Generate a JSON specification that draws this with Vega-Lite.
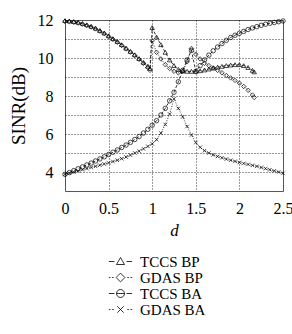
{
"$schema": "https://vega.github.io/schema/vega-lite/v6.json",
"width": 218, "height": 171,
"padding": {"left": 9, "top": 12, "right": 0, "bottom": 5},
"config": {"view": {"stroke": "#555", "strokeWidth": 1}, "font": "Liberation Serif"},
"datasets": {
"curves": [
{"d":0,"v":11.97,"s":"TCCS BP"},{"d":0.05,"v":11.95,"s":"TCCS BP"},{"d":0.1,"v":11.92,"s":"TCCS BP"},{"d":0.15,"v":11.88,"s":"TCCS BP"},{"d":0.2,"v":11.82,"s":"TCCS BP"},{"d":0.25,"v":11.75,"s":"TCCS BP"},{"d":0.3,"v":11.67,"s":"TCCS BP"},{"d":0.35,"v":11.57,"s":"TCCS BP"},{"d":0.4,"v":11.45,"s":"TCCS BP"},{"d":0.45,"v":11.32,"s":"TCCS BP"},{"d":0.5,"v":11.17,"s":"TCCS BP"},{"d":0.55,"v":11.02,"s":"TCCS BP"},{"d":0.6,"v":10.87,"s":"TCCS BP"},{"d":0.65,"v":10.7,"s":"TCCS BP"},{"d":0.7,"v":10.52,"s":"TCCS BP"},{"d":0.75,"v":10.35,"s":"TCCS BP"},{"d":0.8,"v":10.17,"s":"TCCS BP"},{"d":0.85,"v":9.97,"s":"TCCS BP"},{"d":0.9,"v":9.77,"s":"TCCS BP"},{"d":0.95,"v":9.57,"s":"TCCS BP"},{"d":0.975,"v":9.45,"s":"TCCS BP"},{"d":1.0,"v":11.6,"s":"TCCS BP"},{"d":1.05,"v":11.1,"s":"TCCS BP"},{"d":1.1,"v":10.7,"s":"TCCS BP"},{"d":1.15,"v":10.3,"s":"TCCS BP"},{"d":1.2,"v":9.9,"s":"TCCS BP"},{"d":1.25,"v":9.6,"s":"TCCS BP"},{"d":1.3,"v":9.4,"s":"TCCS BP"},{"d":1.35,"v":9.32,"s":"TCCS BP"},{"d":1.4,"v":9.3,"s":"TCCS BP"},{"d":1.45,"v":9.3,"s":"TCCS BP"},{"d":1.5,"v":9.3,"s":"TCCS BP"},{"d":1.55,"v":9.33,"s":"TCCS BP"},{"d":1.6,"v":9.37,"s":"TCCS BP"},{"d":1.65,"v":9.42,"s":"TCCS BP"},{"d":1.7,"v":9.47,"s":"TCCS BP"},{"d":1.75,"v":9.52,"s":"TCCS BP"},{"d":1.8,"v":9.56,"s":"TCCS BP"},{"d":1.85,"v":9.6,"s":"TCCS BP"},{"d":1.9,"v":9.63,"s":"TCCS BP"},{"d":1.95,"v":9.65,"s":"TCCS BP"},{"d":2.0,"v":9.65,"s":"TCCS BP"},{"d":2.05,"v":9.6,"s":"TCCS BP"},{"d":2.1,"v":9.5,"s":"TCCS BP"},{"d":2.15,"v":9.35,"s":"TCCS BP"},{"d":2.17,"v":9.27,"s":"TCCS BP"},

{"d":0,"v":11.93,"s":"GDAS BP"},{"d":0.05,"v":11.91,"s":"GDAS BP"},{"d":0.1,"v":11.88,"s":"GDAS BP"},{"d":0.15,"v":11.84,"s":"GDAS BP"},{"d":0.2,"v":11.78,"s":"GDAS BP"},{"d":0.25,"v":11.71,"s":"GDAS BP"},{"d":0.3,"v":11.63,"s":"GDAS BP"},{"d":0.35,"v":11.53,"s":"GDAS BP"},{"d":0.4,"v":11.41,"s":"GDAS BP"},{"d":0.45,"v":11.28,"s":"GDAS BP"},{"d":0.5,"v":11.13,"s":"GDAS BP"},{"d":0.55,"v":10.98,"s":"GDAS BP"},{"d":0.6,"v":10.83,"s":"GDAS BP"},{"d":0.65,"v":10.66,"s":"GDAS BP"},{"d":0.7,"v":10.48,"s":"GDAS BP"},{"d":0.75,"v":10.31,"s":"GDAS BP"},{"d":0.8,"v":10.13,"s":"GDAS BP"},{"d":0.85,"v":9.93,"s":"GDAS BP"},{"d":0.9,"v":9.72,"s":"GDAS BP"},{"d":0.95,"v":9.5,"s":"GDAS BP"},{"d":0.975,"v":9.35,"s":"GDAS BP"},{"d":1.0,"v":10.9,"s":"GDAS BP"},{"d":1.05,"v":10.3,"s":"GDAS BP"},{"d":1.1,"v":9.95,"s":"GDAS BP"},{"d":1.15,"v":9.65,"s":"GDAS BP"},{"d":1.2,"v":9.45,"s":"GDAS BP"},{"d":1.25,"v":9.3,"s":"GDAS BP"},{"d":1.3,"v":9.22,"s":"GDAS BP"},{"d":1.35,"v":9.3,"s":"GDAS BP"},{"d":1.4,"v":9.8,"s":"GDAS BP"},{"d":1.45,"v":10.5,"s":"GDAS BP"},{"d":1.5,"v":10.2,"s":"GDAS BP"},{"d":1.55,"v":9.95,"s":"GDAS BP"},{"d":1.6,"v":9.72,"s":"GDAS BP"},{"d":1.65,"v":9.6,"s":"GDAS BP"},{"d":1.7,"v":9.48,"s":"GDAS BP"},{"d":1.75,"v":9.35,"s":"GDAS BP"},{"d":1.8,"v":9.22,"s":"GDAS BP"},{"d":1.85,"v":9.08,"s":"GDAS BP"},{"d":1.9,"v":8.95,"s":"GDAS BP"},{"d":1.95,"v":8.82,"s":"GDAS BP"},{"d":2.0,"v":8.68,"s":"GDAS BP"},{"d":2.05,"v":8.5,"s":"GDAS BP"},{"d":2.1,"v":8.3,"s":"GDAS BP"},{"d":2.15,"v":8.05,"s":"GDAS BP"},{"d":2.17,"v":7.92,"s":"GDAS BP"},

{"d":0,"v":3.88,"s":"TCCS BA"},{"d":0.05,"v":3.97,"s":"TCCS BA"},{"d":0.1,"v":4.07,"s":"TCCS BA"},{"d":0.15,"v":4.17,"s":"TCCS BA"},{"d":0.2,"v":4.27,"s":"TCCS BA"},{"d":0.25,"v":4.37,"s":"TCCS BA"},{"d":0.3,"v":4.47,"s":"TCCS BA"},{"d":0.35,"v":4.58,"s":"TCCS BA"},{"d":0.4,"v":4.69,"s":"TCCS BA"},{"d":0.45,"v":4.8,"s":"TCCS BA"},{"d":0.5,"v":4.92,"s":"TCCS BA"},{"d":0.55,"v":5.04,"s":"TCCS BA"},{"d":0.6,"v":5.16,"s":"TCCS BA"},{"d":0.65,"v":5.29,"s":"TCCS BA"},{"d":0.7,"v":5.42,"s":"TCCS BA"},{"d":0.75,"v":5.56,"s":"TCCS BA"},{"d":0.8,"v":5.71,"s":"TCCS BA"},{"d":0.85,"v":5.87,"s":"TCCS BA"},{"d":0.9,"v":6.05,"s":"TCCS BA"},{"d":0.95,"v":6.25,"s":"TCCS BA"},{"d":1.0,"v":6.46,"s":"TCCS BA"},{"d":1.05,"v":6.7,"s":"TCCS BA"},{"d":1.1,"v":7.0,"s":"TCCS BA"},{"d":1.15,"v":7.35,"s":"TCCS BA"},{"d":1.2,"v":7.75,"s":"TCCS BA"},{"d":1.25,"v":8.2,"s":"TCCS BA"},{"d":1.3,"v":8.75,"s":"TCCS BA"},{"d":1.35,"v":9.35,"s":"TCCS BA"},{"d":1.4,"v":9.9,"s":"TCCS BA"},{"d":1.45,"v":10.4,"s":"TCCS BA"},{"d":1.5,"v":9.3,"s":"TCCS BA"},{"d":1.55,"v":9.6,"s":"TCCS BA"},{"d":1.6,"v":9.9,"s":"TCCS BA"},{"d":1.65,"v":10.15,"s":"TCCS BA"},{"d":1.7,"v":10.38,"s":"TCCS BA"},{"d":1.75,"v":10.58,"s":"TCCS BA"},{"d":1.8,"v":10.76,"s":"TCCS BA"},{"d":1.85,"v":10.93,"s":"TCCS BA"},{"d":1.9,"v":11.08,"s":"TCCS BA"},{"d":1.95,"v":11.2,"s":"TCCS BA"},{"d":2.0,"v":11.3,"s":"TCCS BA"},{"d":2.05,"v":11.4,"s":"TCCS BA"},{"d":2.1,"v":11.5,"s":"TCCS BA"},{"d":2.15,"v":11.58,"s":"TCCS BA"},{"d":2.2,"v":11.65,"s":"TCCS BA"},{"d":2.25,"v":11.72,"s":"TCCS BA"},{"d":2.3,"v":11.78,"s":"TCCS BA"},{"d":2.35,"v":11.83,"s":"TCCS BA"},{"d":2.4,"v":11.87,"s":"TCCS BA"},{"d":2.45,"v":11.91,"s":"TCCS BA"},{"d":2.5,"v":11.95,"s":"TCCS BA"},

{"d":0,"v":3.88,"s":"GDAS BA"},{"d":0.05,"v":3.94,"s":"GDAS BA"},{"d":0.1,"v":4.0,"s":"GDAS BA"},{"d":0.15,"v":4.06,"s":"GDAS BA"},{"d":0.2,"v":4.12,"s":"GDAS BA"},{"d":0.25,"v":4.18,"s":"GDAS BA"},{"d":0.3,"v":4.24,"s":"GDAS BA"},{"d":0.35,"v":4.3,"s":"GDAS BA"},{"d":0.4,"v":4.36,"s":"GDAS BA"},{"d":0.45,"v":4.42,"s":"GDAS BA"},{"d":0.5,"v":4.48,"s":"GDAS BA"},{"d":0.55,"v":4.55,"s":"GDAS BA"},{"d":0.6,"v":4.62,"s":"GDAS BA"},{"d":0.65,"v":4.7,"s":"GDAS BA"},{"d":0.7,"v":4.79,"s":"GDAS BA"},{"d":0.75,"v":4.89,"s":"GDAS BA"},{"d":0.8,"v":5.0,"s":"GDAS BA"},{"d":0.85,"v":5.1,"s":"GDAS BA"},{"d":0.9,"v":5.22,"s":"GDAS BA"},{"d":0.95,"v":5.35,"s":"GDAS BA"},{"d":1.0,"v":5.48,"s":"GDAS BA"},{"d":1.05,"v":5.7,"s":"GDAS BA"},{"d":1.1,"v":6.05,"s":"GDAS BA"},{"d":1.15,"v":6.5,"s":"GDAS BA"},{"d":1.2,"v":7.05,"s":"GDAS BA"},{"d":1.25,"v":7.85,"s":"GDAS BA"},{"d":1.3,"v":7.35,"s":"GDAS BA"},{"d":1.35,"v":6.9,"s":"GDAS BA"},{"d":1.4,"v":6.4,"s":"GDAS BA"},{"d":1.45,"v":5.95,"s":"GDAS BA"},{"d":1.5,"v":5.55,"s":"GDAS BA"},{"d":1.55,"v":5.3,"s":"GDAS BA"},{"d":1.6,"v":5.12,"s":"GDAS BA"},{"d":1.65,"v":5.0,"s":"GDAS BA"},{"d":1.7,"v":4.9,"s":"GDAS BA"},{"d":1.75,"v":4.82,"s":"GDAS BA"},{"d":1.8,"v":4.75,"s":"GDAS BA"},{"d":1.85,"v":4.68,"s":"GDAS BA"},{"d":1.9,"v":4.62,"s":"GDAS BA"},{"d":1.95,"v":4.56,"s":"GDAS BA"},{"d":2.0,"v":4.5,"s":"GDAS BA"},{"d":2.05,"v":4.45,"s":"GDAS BA"},{"d":2.1,"v":4.4,"s":"GDAS BA"},{"d":2.15,"v":4.35,"s":"GDAS BA"},{"d":2.2,"v":4.3,"s":"GDAS BA"},{"d":2.25,"v":4.24,"s":"GDAS BA"},{"d":2.3,"v":4.18,"s":"GDAS BA"},{"d":2.35,"v":4.12,"s":"GDAS BA"},{"d":2.4,"v":4.06,"s":"GDAS BA"},{"d":2.45,"v":4.0,"s":"GDAS BA"},{"d":2.5,"v":3.93,"s":"GDAS BA"}
]},
"data": {"name": "curves"},
"encoding": {
  "x": {"field": "d", "type": "quantitative", "scale": {"domain": [0, 2.5], "nice": false},
    "axis": {"values": [0, 0.5, 1, 1.5, 2, 2.5], "format": "~g", "title": "d", "titleFontStyle": "italic", "titleFontWeight": "normal", "titleFontSize": 17, "titlePadding": 6, "labelFontSize": 16, "labelPadding": 9, "ticks": false, "domain": false, "labelFlush": false,
      "grid": true, "gridColor": "black", "gridDash": [1, 2], "gridWidth": 0.8,
      "gridOpacity": {"condition": {"test": "datum.value <= 0 || datum.value >= 2.5", "value": 0}, "value": 1}}},
  "y": {"field": "v", "type": "quantitative", "scale": {"domain": [3, 12], "nice": false, "zero": false},
    "axis": {"values": [3, 4, 5, 6, 7, 8, 9, 10, 11, 12], "labelExpr": "datum.value % 2 == 0 && datum.value >= 4 ? datum.label : ''", "title": "SINR(dB)", "titleFontWeight": "normal", "titleFontSize": 19, "titlePadding": 9, "labelFontSize": 16, "labelPadding": 12, "ticks": false, "domain": false, "labelFlush": false,
      "grid": true, "gridColor": "black", "gridDash": [1, 2], "gridWidth": 0.8,
      "gridOpacity": {"condition": {"test": "datum.value <= 3 || datum.value >= 12", "value": 0}, "value": 1}}}
},
"layer": [
  {"mark": {"type": "line", "color": "black", "strokeWidth": 0.8},
   "encoding": {"detail": {"field": "s"},
     "strokeDash": {"field": "s", "type": "nominal", "legend": null,
       "scale": {"domain": ["TCCS BP", "GDAS BP", "TCCS BA", "GDAS BA"], "range": [[3, 2], [1, 1.5], [3, 2], [1, 1.5]]}}}},
  {"mark": {"type": "point", "filled": false, "color": "black", "strokeWidth": 0.7, "size": 20, "opacity": 1},
   "encoding": {
     "shape": {"field": "s", "type": "nominal", "legend": null,
       "scale": {"domain": ["TCCS BP", "GDAS BP", "TCCS BA", "GDAS BA"], "range": ["triangle-up", "diamond", "circle", "M-0.8,-0.8L0.8,0.8M-0.8,0.8L0.8,-0.8"]}}}},
  {"mark": {"type": "point", "filled": false, "color": "black", "opacity": 0},
   "encoding": {
     "shape": {"field": "s", "type": "nominal",
       "scale": {"domain": ["TCCS BP", "GDAS BP", "TCCS BA", "GDAS BA"],
         "range": ["M-2.9,0H-1.5M1.5,0H2.9M0,-1L1,0.75H-1Z",
                   "M-2.9,0H-2.5M-2.1,0H-1.7M1.7,0H2.1M2.5,0H2.9M0,-1.1L1.1,0L0,1.1L-1.1,0Z",
                   "M-2.9,0H-1.5M1.5,0H2.9M-1,0H1M1,0A1,1 0 1,1 -1,0A1,1 0 1,1 1,0Z",
                   "M-2.9,0H-2.5M-2.1,0H-1.7M1.7,0H2.1M2.5,0H2.9M-0.8,-0.8L0.8,0.8M-0.8,0.8L0.8,-0.8"]},
       "legend": {"title": null, "orient": "none", "legendX": 48, "legendY": 234, "direction": "vertical", "padding": 0,
         "symbolSize": 64, "symbolOpacity": 1, "symbolStrokeColor": "black", "symbolFillColor": "transparent", "symbolStrokeWidth": 0.8,
         "labelFont": "Liberation Serif", "labelFontSize": 15, "labelOffset": 12, "rowPadding": 0, "labelColor": "black"}}}}
],
"resolve": {"scale": {"shape": "independent"}}
}
